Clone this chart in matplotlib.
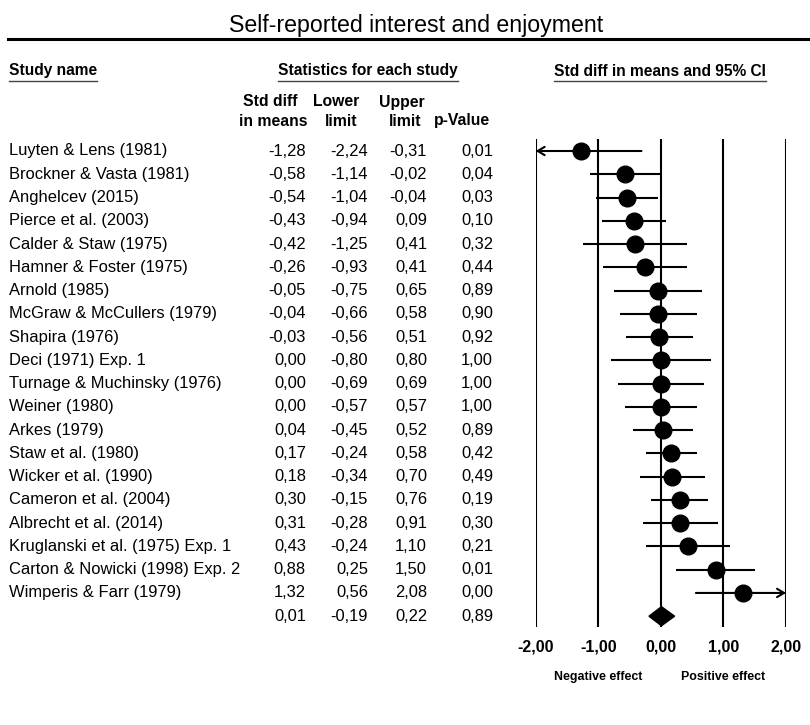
import matplotlib
matplotlib.use("Agg")
import matplotlib.pyplot as plt
from matplotlib.lines import Line2D
from matplotlib.transforms import blended_transform_factory
import numpy as np

plt.rcParams['font.family'] = ['Liberation Sans', 'DejaVu Sans']

# ---------------- data ----------------
studies = [
    "Luyten & Lens (1981)", "Brockner & Vasta (1981)", "Anghelcev (2015)",
    "Pierce et al. (2003)", "Calder & Staw (1975)", "Hamner & Foster (1975)",
    "Arnold (1985)", "McGraw & McCullers (1979)", "Shapira (1976)",
    "Deci (1971) Exp. 1", "Turnage & Muchinsky (1976)", "Weiner (1980)",
    "Arkes (1979)", "Staw et al. (1980)", "Wicker et al. (1990)",
    "Cameron et al. (2004)", "Albrecht et al. (2014)",
    "Kruglanski et al. (1975) Exp. 1", "Carton & Nowicki (1998) Exp. 2",
    "Wimperis & Farr (1979)",
]
std_diff = [-1.28, -0.58, -0.54, -0.43, -0.42, -0.26, -0.05, -0.04, -0.03, 0.00,
            0.00, 0.00, 0.04, 0.17, 0.18, 0.30, 0.31, 0.43, 0.88, 1.32]
lower = [-2.24, -1.14, -1.04, -0.94, -1.25, -0.93, -0.75, -0.66, -0.56, -0.80,
         -0.69, -0.57, -0.45, -0.24, -0.34, -0.15, -0.28, -0.24, 0.25, 0.56]
upper = [-0.31, -0.02, -0.04, 0.09, 0.41, 0.41, 0.65, 0.58, 0.51, 0.80,
         0.69, 0.57, 0.52, 0.58, 0.70, 0.76, 0.91, 1.10, 1.50, 2.08]
p_value = [0.01, 0.04, 0.03, 0.10, 0.32, 0.44, 0.89, 0.90, 0.92, 1.00,
           1.00, 1.00, 0.89, 0.42, 0.49, 0.19, 0.30, 0.21, 0.01, 0.00]
summary_est, summary_lo, summary_hi, summary_p = 0.01, -0.19, 0.22, 0.89
x_ticks = [-2, -1, 0, 1, 2]
x_tick_labels = ["-2,00", "-1,00", "0,00", "1,00", "2,00"]
title = "Self-reported interest and enjoyment"

# ---------------- layout ----------------
W, H = 810, 725
fig = plt.figure(figsize=(W / 100, H / 100), dpi=100)

def fx(px):
    return px / W

def fy(py):
    return 1 - py / H

# forest axes: x=-2 at 535.7px, x=2 at 786px; rows 0..20 at 151 + 23.26*i
row0, drow = 151.0, 23.26
top_px, bot_px = 139.0, 627.0
ax = fig.add_axes([fx(535.7), fy(bot_px), (786.0 - 535.7) / W, (bot_px - top_px) / H])
ax.set_xlim(-2, 2)
ax.set_ylim((bot_px - row0) / drow, (top_px - row0) / drow)
for s in ax.spines.values():
    s.set_visible(False)
ax.set_yticks([])
ax.set_xticks(x_ticks)
ax.set_xticklabels(x_tick_labels, fontsize=11.5, fontweight='bold')
ax.tick_params(axis='x', length=0, pad=9)
ax.patch.set_alpha(0)

for t in x_ticks:
    ax.axvline(t, color='black', lw=1.5, zorder=1)

n = len(studies)
rows = np.arange(n)
lo_c = np.clip(lower, -2, 2)
hi_c = np.clip(upper, -2, 2)
for i in range(n):
    if lower[i] < -2:
        ax.annotate('', xy=(-2, rows[i]), xytext=(upper[i], rows[i]),
                    arrowprops=dict(arrowstyle='->,head_length=0.5,head_width=0.3',
                                    lw=1.5, color='black', shrinkA=0, shrinkB=0),
                    zorder=2)
    elif upper[i] > 2:
        ax.annotate('', xy=(2, rows[i]), xytext=(lower[i], rows[i]),
                    arrowprops=dict(arrowstyle='->,head_length=0.5,head_width=0.3',
                                    lw=1.5, color='black', shrinkA=0, shrinkB=0),
                    zorder=2)
    else:
        ax.plot([lo_c[i], hi_c[i]], [rows[i], rows[i]], color='black', lw=1.5,
                solid_capstyle='butt', zorder=2)
ax.plot(std_diff, rows, 'o', color='black', markersize=12, zorder=3)

# summary diamond
srow = n
half_h = 0.41
ax.fill([summary_lo, summary_est, summary_hi, summary_est],
        [srow, srow - half_h, srow, srow + half_h], color='black', zorder=3)

# effect labels
ax.text(-1, 1 - (677 - top_px) / (bot_px - top_px), "Negative effect",
        transform=blended_transform_factory(ax.transData, ax.transAxes),
        ha='center', va='center', fontsize=8.9, fontweight='bold')
ax.text(1, 1 - (677 - top_px) / (bot_px - top_px), "Positive effect",
        transform=blended_transform_factory(ax.transData, ax.transAxes),
        ha='center', va='center', fontsize=8.9, fontweight='bold')

# ---------------- table ----------------
tr = blended_transform_factory(fig.transFigure, ax.transData)

def fmt(v):
    return f"{v:.2f}".replace('.', ',')

col_right = [306, 368, 427, 493]
body_fs = 11.9
for i in range(n):
    fig.text(fx(9.3), rows[i], studies[i], transform=tr, ha='left', va='center',
             fontsize=body_fs)
    for c, vals in zip(col_right, [std_diff, lower, upper, p_value]):
        fig.text(fx(c), rows[i], fmt(vals[i]), transform=tr, ha='right',
                 va='center', fontsize=body_fs)
for c, v in zip(col_right, [summary_est, summary_lo, summary_hi, summary_p]):
    fig.text(fx(c), srow, fmt(v), transform=tr, ha='right', va='center',
             fontsize=body_fs)

# ---------------- titles and headers ----------------
fig.text(fx(416), fy(32), title, ha='center', va='baseline', fontsize=16.7)
fig.add_artist(Line2D([fx(8), fx(810)], [fy(38.5), fy(38.5)], color='black',
                      lw=2.2, transform=fig.transFigure))

hdr_fs = 11.2
headers = [(fx(9), 'left', "Study name"),
           (fx(368), 'center', "Statistics for each study"),
           (fx(660), 'center', "Std diff in means and 95% CI")]
hdr_texts = []
for x, ha, s in headers:
    hdr_texts.append(fig.text(x, fy(71), s, ha=ha, va='center', fontsize=hdr_fs,
                              fontweight='bold'))

sub = [(270.5, 102, "Std diff"), (273, 121, "in means"),
       (336, 102, "Lower"), (341.5, 121, "limit"),
       (401.5, 102, "Upper"), (405, 121, "limit"),
       (462, 121, "p-Value")]
for x, y, s in sub:
    fig.text(fx(x), fy(y), s, ha='center', va='center', fontsize=11.3,
             fontweight='bold')

# underline headers
fig.canvas.draw()
renderer = fig.canvas.get_renderer()
for t in hdr_texts:
    bb = t.get_window_extent(renderer)
    fig.add_artist(Line2D([bb.x0 / W, bb.x1 / W], [fy(80.5), fy(80.5)],
                          color='#444444', lw=1.0, transform=fig.transFigure))

fig.savefig("out.png", dpi=100)
